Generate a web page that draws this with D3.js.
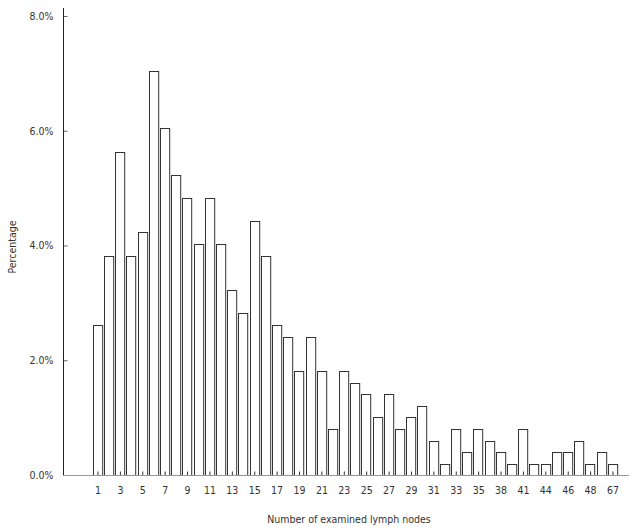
<!DOCTYPE html>
<html>
<head>
<meta charset="utf-8">
<script src="https://cdn.jsdelivr.net/npm/d3@7"></script>
<style>
  html, body { margin: 0; padding: 0; background: #fff; }
  svg { display: block; }
</style>
</head>
<body>
<svg id="chart" width="640" height="531"></svg>
<script>
// Categories: number of examined lymph nodes (one bar each)
const categories = ["1","2","3","4","5","6","7","8","9","10","11","12","13","14","15","16","17","18","19","20",
  "21","22","23","24","25","26","27","28","29","30","31","32","33","34","35","37","38","40","41","43","44","45",
  "46","47","48","54","67"];
// Percentage of patients for each category
const percentages = [2.62,3.82,5.63,3.82,4.23,7.04,6.04,5.23,4.83,4.02,4.83,4.02,3.22,2.82,4.43,3.82,2.62,2.41,1.81,2.41,
  1.81,0.80,1.81,1.61,1.41,1.01,1.41,0.80,1.01,1.21,0.60,0.20,0.80,0.40,0.80,0.60,0.40,0.20,0.80,0.20,0.20,0.40,
  0.40,0.60,0.20,0.40,0.20];
// Labelled categories on the x axis
const xTickLabels = ["1","3","5","7","9","11","13","15","17","19","21","23","25","27","29","31","33","35","38","41","44","46","48","67"];
const yTicks = [0, 2, 4, 6, 8];

const svg = d3.select("#chart");
const font = "'DejaVu Sans Condensed', 'DejaVu Sans', sans-serif";
const fs = 10.5;

const x = d3.scaleBand().domain(categories).range([92.4, 618.6]).paddingInner(0.07).paddingOuter(0.035);
const y = d3.scaleLinear().domain([0, 8]).range([475, 16]);

// bars
svg.append("g").selectAll("rect").data(categories).join("rect")
  .attr("x", d => Math.round(x(d)) + 0.5)
  .attr("y", (d, i) => Math.round(y(percentages[i])) + 0.5)
  .attr("width", 9.2)
  .attr("height", (d, i) => Math.round(y(0)) - Math.round(y(percentages[i])))
  .attr("fill", "#fff")
  .attr("stroke", "#333")
  .attr("stroke-width", 1);

// y axis
const yAxis = svg.append("g").attr("transform", "translate(63.5,0)")
  .call(d3.axisLeft(y).tickValues(yTicks).tickSize(-4).tickPadding(10)
    .tickFormat(d => d3.format(".1f")(d) + "%"));
yAxis.select(".domain").remove();
yAxis.append("line").attr("x1", 0).attr("x2", 0).attr("y1", 8).attr("y2", 475.5).attr("stroke", "#222");
yAxis.selectAll(".tick line").attr("stroke", "#666");
yAxis.selectAll(".tick text").attr("font-family", font).attr("font-size", fs).attr("fill", "#333");

// x axis
const xAxis = svg.append("g").attr("transform", "translate(0,475.5)")
  .call(d3.axisBottom(x).tickValues(xTickLabels).tickSize(-4).tickPadding(11));
xAxis.select(".domain").remove();
xAxis.append("line").attr("x1", 63).attr("x2", 629).attr("y1", 0).attr("y2", 0).attr("stroke", "#999");
xAxis.selectAll(".tick line").attr("stroke", "#333");
xAxis.selectAll(".tick text").attr("font-family", font).attr("font-size", fs).attr("fill", "#333");

// titles
svg.append("text").attr("x", 349).attr("y", 523).attr("text-anchor", "middle")
  .attr("font-family", font).attr("font-size", fs).attr("fill", "#333")
  .text("Number of examined lymph nodes");
svg.append("text").attr("transform", "translate(16,247) rotate(-90)").attr("text-anchor", "middle")
  .attr("font-family", font).attr("font-size", fs).attr("fill", "#333")
  .text("Percentage");
</script>
</body>
</html>
